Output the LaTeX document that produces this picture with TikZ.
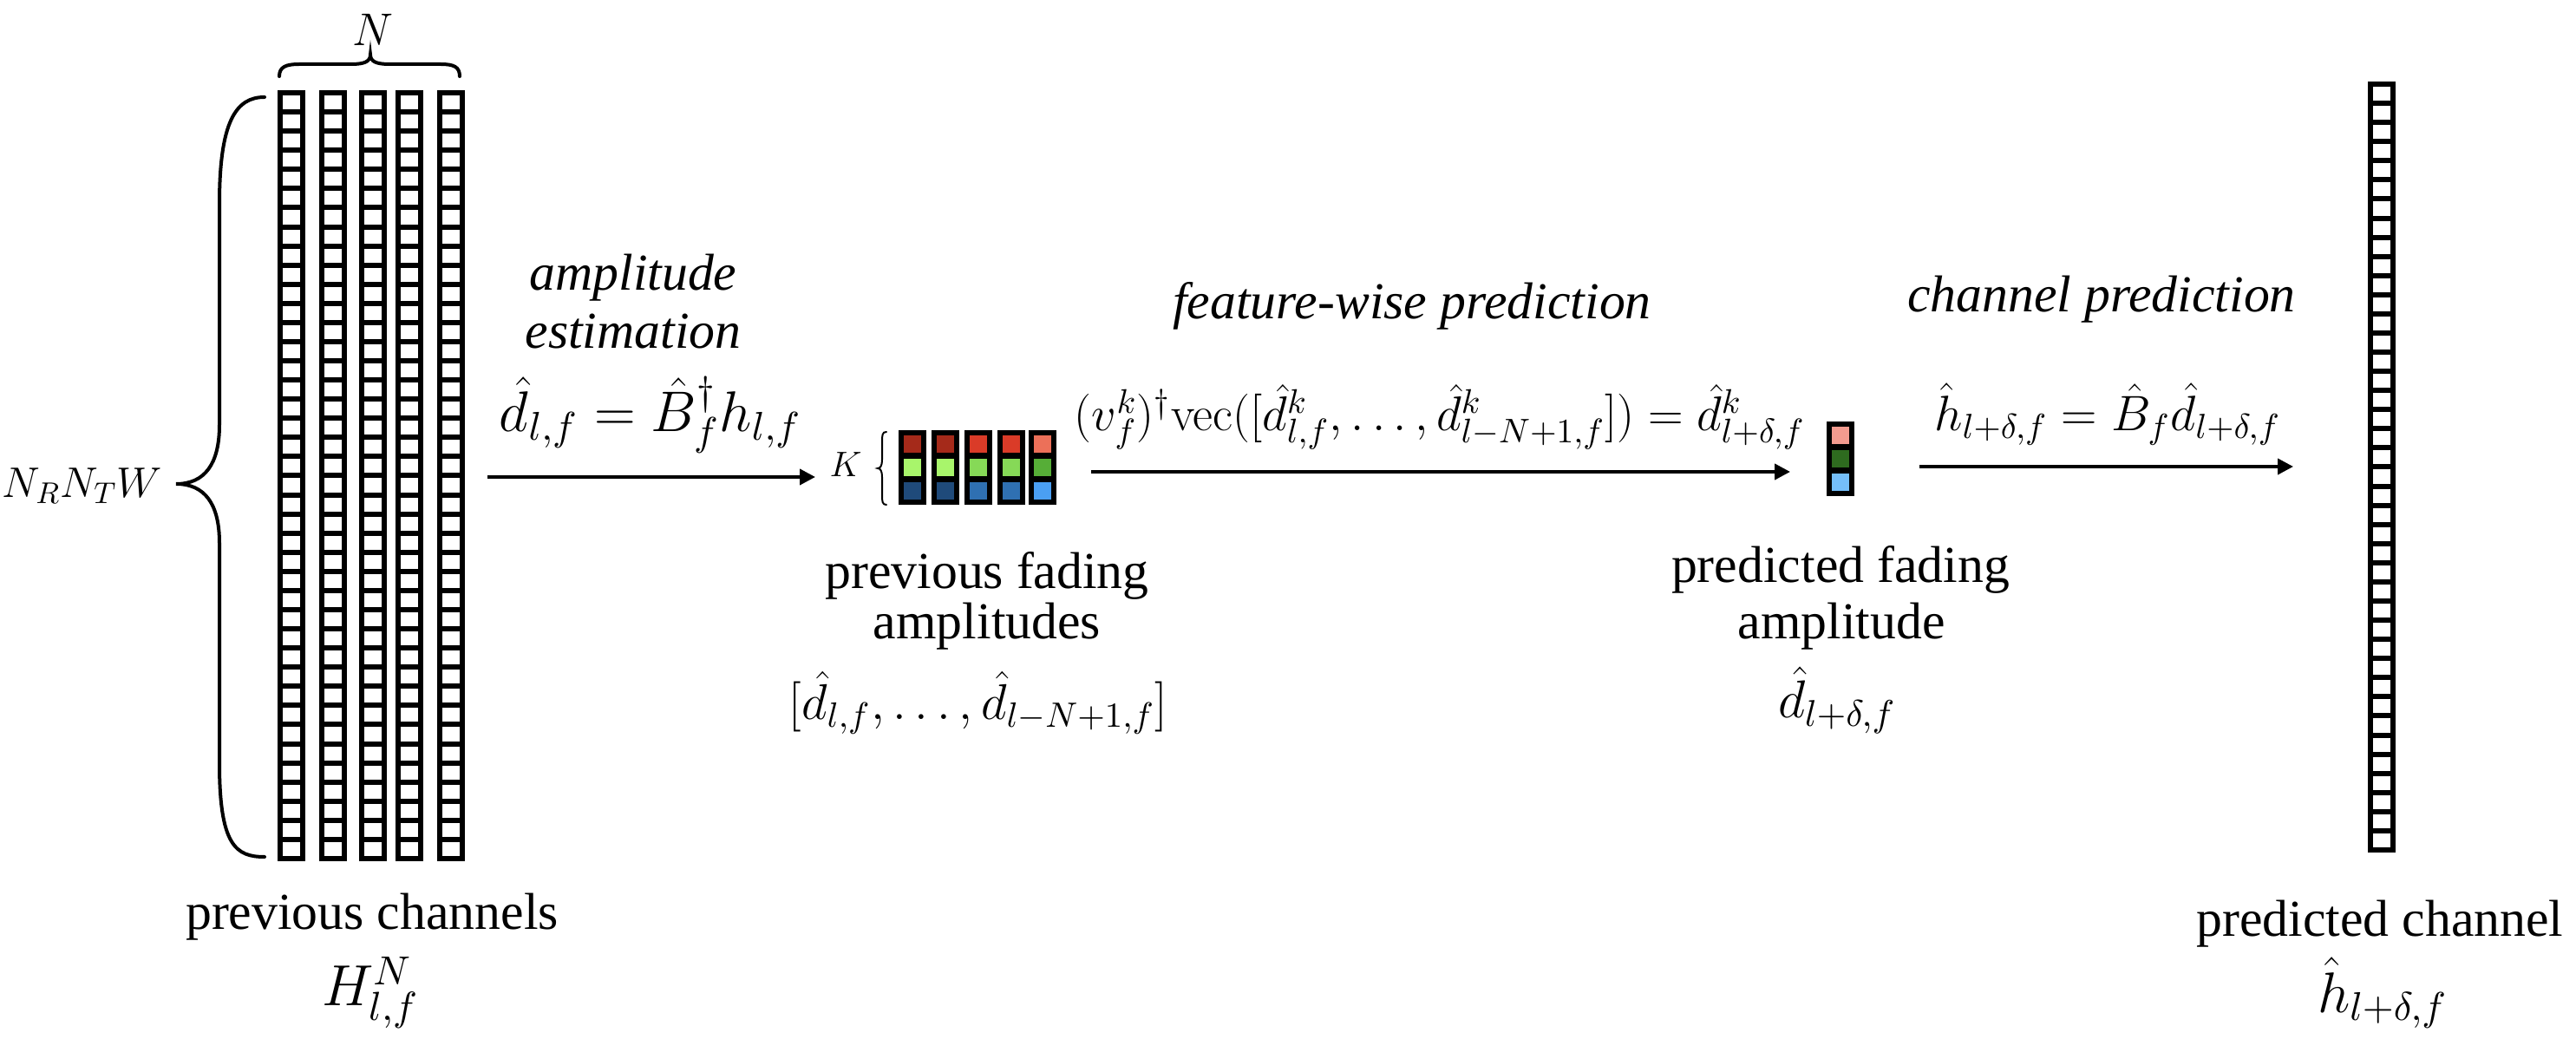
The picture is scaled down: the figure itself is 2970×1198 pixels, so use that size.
\RequirePackage{fix-cm}
\documentclass[tikz,border=0pt]{standalone}
\usepackage[no-math]{fontspec}
\usepackage{graphicx}
\setmainfont{Liberation Serif}
\usetikzlibrary{arrows.meta}
\definecolor{ra}{HTML}{A52A1A}
\definecolor{rb}{HTML}{DA3B28}
\definecolor{rc}{HTML}{EC7059}
\definecolor{ga}{HTML}{A8F56B}
\definecolor{gb}{HTML}{86D957}
\definecolor{gc}{HTML}{56AE37}
\definecolor{ba}{HTML}{1F4A7A}
\definecolor{bb}{HTML}{2F70B2}
\definecolor{bc}{HTML}{4A9FF3}
\definecolor{pr}{HTML}{F39B8F}
\definecolor{pg}{HTML}{2E6B1F}
\definecolor{pb}{HTML}{75BFFA}
\newcommand\ampcolumn[5]{%
  \fill (#1,#2) rectangle ++(32,86);
  \fill[#3] (#1+6,#2+6) rectangle ++(20,20);
  \fill[#4] (#1+6,#2+33) rectangle ++(20,20);
  \fill[#5] (#1+6,#2+60) rectangle ++(20,20);}
\newcommand\ladder[3]{%
  \pgfmathsetmacro\ladpitch{(#3-#2)/40}%
  \draw[colline] (#1+3,#2) rectangle (#1+29,#3);
  \foreach \k in {1,...,39}
    \draw[colline] (#1+3,{#2+\k*\ladpitch}) -- (#1+29,{#2+\k*\ladpitch});}
% math label resized to a given width (in tenths of a millimetre)
\newcommand\mwide[2]{\resizebox{#1\dimexpr 0.1mm\relax}{!}{$#2$}}
\begin{document}
\begin{tikzpicture}[x=0.1mm,y=-0.1mm,
  txt/.style={font=\fontsize{17}{20}\selectfont, inner sep=0pt, anchor=base},
  itxt/.style={txt, font=\fontsize{17}{20}\selectfont\itshape},
  colline/.style={line width=0.6mm},
  brc/.style={line width=0.4mm, line cap=round},
  kbrc/.style={line width=0.2mm, line cap=round},
  arr/.style={line width=0.4mm, -{Triangle[length=1.8mm,width=1.8mm]}}]
\useasboundingbox[fill=white] (0,0) rectangle (2970,1198);

% previous channels (N columns)
\foreach \x in {320,368,414,456,504} { \ladder{\x}{107}{990} }
% predicted channel
\ladder{2730}{97}{980}

% braces
\draw[brc] (322,88) .. controls (322,77) and (330,74) .. (345,74) -- (405,74)
  .. controls (420,74) and (427,71) .. (427,63)
  .. controls (427,71) and (434,74) .. (449,74) -- (508,74)
  .. controls (523,74) and (530,77) .. (530,88);
\draw[brc] (305,112) .. controls (272,112) and (253,140) .. (253,235) -- (253,490)
  .. controls (253,535) and (236,558) .. (203,558)
  .. controls (236,558) and (253,581) .. (253,626) -- (253,880)
  .. controls (253,975) and (272,988) .. (305,988);
\draw[kbrc] (1022,498) .. controls (1017,498) and (1017,502) .. (1017,510) -- (1017,530)
  .. controls (1017,537) and (1015,540) .. (1012,540)
  .. controls (1015,540) and (1017,543) .. (1017,550) -- (1017,570)
  .. controls (1017,578) and (1017,582) .. (1022,582);

% fading amplitude blocks
\ampcolumn{1036}{496}{ra}{ga}{ba}
\ampcolumn{1074}{496}{ra}{ga}{ba}
\ampcolumn{1112}{496}{rb}{gb}{bb}
\ampcolumn{1150}{496}{rb}{gb}{bb}
\ampcolumn{1186}{496}{rc}{gc}{bc}
\ampcolumn{2106}{486}{pr}{pg}{pb}

% labels
\node[txt] (Nlab) at (430,53) {\mwide{47}{N}};
\node[txt, anchor=center] (dimlab) at (95,560) {\mwide{184}{N_RN_TW}};
\node[txt] (pcA) at (429,1072) {previous channels};
\node[txt] (pcB) at (427,1160) {\mwide{112}{H^N_{l,f}}};

\node[itxt] (aeA) at (730,335) {amplitude};
\node[itxt] (aeB) at (730,402) {estimation};
\node[txt] (aeEq) at (750,498) {\mwide{348}{\hat d_{l,f} = \hat B_f^\dagger h_{l,f}}};
\node[txt] (Klab) at (975,550) {\mwide{37}{K}};

\node[txt] (pfA) at (1138,679) {previous fading};
\node[txt] (pfB) at (1138,737) {amplitudes};
\node[txt] (pfC) at (1128,830) {\mwide{436}{[\hat d_{l,f},\ldots,\hat d_{l-N+1,f}]}};

\node[itxt] (fwA) at (1628,368) {feature-wise prediction};
\node[txt] (fwEq) at (1660,497) {\mwide{842}{(v^k_f)^\dagger\mathrm{vec}([\hat d^k_{l,f},\ldots,\hat d^k_{l-N+1,f}]) = \hat d^k_{l+\delta,f}}};

\node[txt] (pdA) at (2122,672) {predicted fading};
\node[txt] (pdB) at (2123,737) {amplitude};
\node[txt] (pdC) at (2118,828) {\mwide{136}{\hat d_{l+\delta,f}}};

\node[itxt] (cpA) at (2423,360) {channel prediction};
\node[txt] (cpEq) at (2430,497) {\mwide{399}{\hat h_{l+\delta,f} = \hat B_f\hat d_{l+\delta,f}}};

\node[txt] (pchA) at (2744,1080) {predicted channel};
\node[txt] (pchB) at (2747,1167) {\mwide{150}{\hat h_{l+\delta,f}}};

% arrows
\coordinate (a1s) at (562,550); \coordinate (a1e) at (940,550);
\coordinate (a2s) at (1258,544); \coordinate (a2e) at (2064,544);
\coordinate (a3s) at (2213,538); \coordinate (a3e) at (2644,538);
\draw[arr] (a1s) -- (a1e);
\draw[arr] (a2s) -- (a2e);
\draw[arr] (a3s) -- (a3e);
\end{tikzpicture}
\end{document}
